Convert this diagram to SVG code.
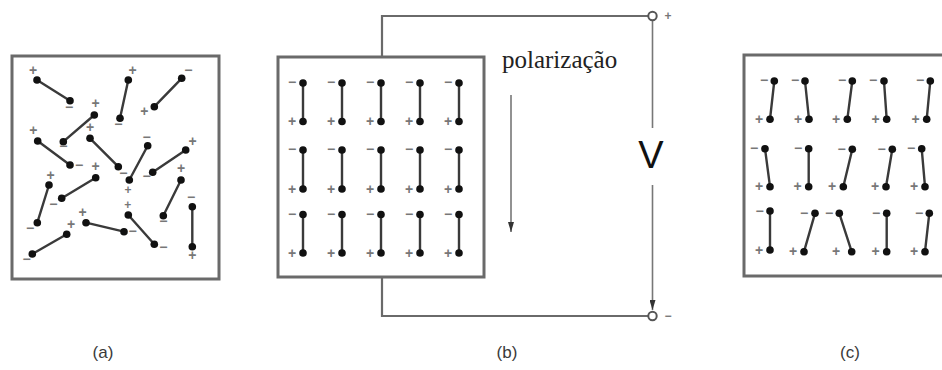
<svg xmlns="http://www.w3.org/2000/svg" width="942" height="370" viewBox="0 0 942 370">
  <defs>
    <style>
      .frame { fill: #ffffff; stroke: #6a6a6a; stroke-width: 3; }
      .wire { fill: none; stroke: #6a6a6a; stroke-width: 2.2; }
      .thin { fill: none; stroke: #777777; stroke-width: 1.6; }
      .bond { stroke: #3a3a3a; stroke-width: 2.4; stroke-linecap: round; }
      .atom { fill: #111111; }
      .sign { font-family: "Liberation Sans", Arial, sans-serif; font-size: 14px; font-weight: bold; fill: #777777; text-anchor: middle; }
      .sign.sm { font-size: 12px; }
      .term { fill: #ffffff; stroke: #555555; stroke-width: 2; }
      .cap { font-family: "Liberation Sans", Arial, sans-serif; font-size: 17px; fill: #3a3a3a; text-anchor: middle; }
    </style>
    <marker id="arrowDown" viewBox="0 0 6 10" refX="3" refY="10" markerWidth="6" markerHeight="10" markerUnits="userSpaceOnUse" orient="0">
      <path d="M0,0 L3,10 L6,0 Z" fill="#333333"/>
    </marker>
  </defs>

  <rect width="942" height="370" fill="#ffffff"/>

  <!-- (a) unpoled material: randomly oriented dipoles -->
  <g id="panel-a">
    <rect class="frame" x="12" y="56" width="207" height="223"/>
    <g class="dipoles">
      <line class="bond" x1="37" y1="80" x2="70" y2="100.7"/><circle class="atom" cx="37" cy="80" r="3.8"/><circle class="atom" cx="70" cy="100.7" r="3.8"/>
      <text class="sign" x="33" y="75">+</text><text class="sign" x="69" y="112">−</text>

      <line class="bond" x1="128.3" y1="80" x2="120" y2="118.3"/><circle class="atom" cx="128.3" cy="80" r="3.8"/><circle class="atom" cx="120" cy="118.3" r="3.8"/>
      <text class="sign" x="132.7" y="75">+</text><text class="sign" x="118.3" y="129">−</text>

      <line class="bond" x1="181.7" y1="78.3" x2="154.3" y2="106.7"/><circle class="atom" cx="181.7" cy="78.3" r="3.8"/><circle class="atom" cx="154.3" cy="106.7" r="3.8"/>
      <text class="sign" x="188.3" y="75">−</text><text class="sign" x="144.3" y="116">+</text>

      <line class="bond" x1="94.3" y1="115" x2="63.3" y2="141.7"/><circle class="atom" cx="94.3" cy="115" r="3.8"/><circle class="atom" cx="63.3" cy="141.7" r="3.8"/>
      <text class="sign" x="95.7" y="108">+</text><text class="sign" x="63.3" y="151">−</text>

      <line class="bond" x1="37.7" y1="141" x2="70" y2="165"/><circle class="atom" cx="37.7" cy="141" r="3.8"/><circle class="atom" cx="70" cy="165" r="3.8"/>
      <text class="sign" x="33.3" y="135">+</text><text class="sign" x="79" y="170">−</text>

      <line class="bond" x1="90" y1="138.3" x2="118.3" y2="166.7"/><circle class="atom" cx="90" cy="138.3" r="3.8"/><circle class="atom" cx="118.3" cy="166.7" r="3.8"/>
      <text class="sign" x="90" y="132">+</text><text class="sign" x="123.3" y="178">−</text>

      <line class="bond" x1="147.7" y1="145.7" x2="129.3" y2="180"/><circle class="atom" cx="147.7" cy="145.7" r="3.8"/><circle class="atom" cx="129.3" cy="180" r="3.8"/>
      <text class="sign" x="146.7" y="142">−</text><text class="sign sm" x="128" y="194">+</text>

      <line class="bond" x1="185.7" y1="150" x2="152.7" y2="172.3"/><circle class="atom" cx="185.7" cy="150" r="3.8"/><circle class="atom" cx="152.7" cy="172.3" r="3.8"/>
      <text class="sign" x="192.7" y="146">+</text><text class="sign" x="146.7" y="181">−</text>

      <line class="bond" x1="95.7" y1="177.7" x2="61.7" y2="198.3"/><circle class="atom" cx="95.7" cy="177.7" r="3.8"/><circle class="atom" cx="61.7" cy="198.3" r="3.8"/>
      <text class="sign" x="95.7" y="171">+</text><text class="sign" x="53.3" y="209">−</text>

      <line class="bond" x1="49" y1="185" x2="37.3" y2="222.7"/><circle class="atom" cx="49" cy="185" r="3.8"/><circle class="atom" cx="37.3" cy="222.7" r="3.8"/>
      <text class="sign" x="50.7" y="180">+</text><text class="sign" x="30" y="233">−</text>

      <line class="bond" x1="181" y1="180" x2="163.3" y2="215.7"/><circle class="atom" cx="181" cy="180" r="3.8"/><circle class="atom" cx="163.3" cy="215.7" r="3.8"/>
      <text class="sign" x="181" y="173">+</text><text class="sign" x="163.3" y="226">−</text>

      <line class="bond" x1="128.3" y1="215" x2="154.3" y2="244.3"/><circle class="atom" cx="128.3" cy="215" r="3.8"/><circle class="atom" cx="154.3" cy="244.3" r="3.8"/>
      <text class="sign sm" x="127.7" y="208.5">+</text><text class="sign" x="163.3" y="252">−</text>

      <line class="bond" x1="86" y1="222.7" x2="124" y2="231.7"/><circle class="atom" cx="86" cy="222.7" r="3.8"/><circle class="atom" cx="124" cy="231.7" r="3.8"/>
      <text class="sign" x="82.7" y="217">+</text><text class="sign" x="132.7" y="236">−</text>

      <line class="bond" x1="66.7" y1="234.3" x2="32.3" y2="254"/><circle class="atom" cx="66.7" cy="234.3" r="3.8"/><circle class="atom" cx="32.3" cy="254" r="3.8"/>
      <text class="sign" x="71" y="229">+</text><text class="sign" x="26.7" y="264">−</text>

      <line class="bond" x1="192.3" y1="206.7" x2="192.3" y2="246.7"/><circle class="atom" cx="192.3" cy="206.7" r="3.8"/><circle class="atom" cx="192.3" cy="246.7" r="3.8"/>
      <text class="sign" x="191" y="202">−</text><text class="sign" x="192.3" y="260">+</text>
    </g>
  </g>

  <!-- (b) poling: field applied across the sample, dipoles aligned -->
  <g id="panel-b">
    <rect class="frame" x="278" y="57" width="206" height="220"/>
    <g class="dipoles">
      <g id="b-row1">
        <line class="bond" x1="303" y1="83" x2="303" y2="121.5"/><circle class="atom" cx="303" cy="83" r="3.8"/><circle class="atom" cx="303" cy="121.5" r="3.8"/><text class="sign" x="292" y="87">−</text><text class="sign" x="292" y="126">+</text>
        <line class="bond" x1="342" y1="83" x2="342" y2="121.5"/><circle class="atom" cx="342" cy="83" r="3.8"/><circle class="atom" cx="342" cy="121.5" r="3.8"/><text class="sign" x="331" y="87">−</text><text class="sign" x="331" y="126">+</text>
        <line class="bond" x1="381" y1="83" x2="381" y2="121.5"/><circle class="atom" cx="381" cy="83" r="3.8"/><circle class="atom" cx="381" cy="121.5" r="3.8"/><text class="sign" x="370" y="87">−</text><text class="sign" x="370" y="126">+</text>
        <line class="bond" x1="420" y1="83" x2="420" y2="121.5"/><circle class="atom" cx="420" cy="83" r="3.8"/><circle class="atom" cx="420" cy="121.5" r="3.8"/><text class="sign" x="409" y="87">−</text><text class="sign" x="409" y="126">+</text>
        <line class="bond" x1="459" y1="83" x2="459" y2="121.5"/><circle class="atom" cx="459" cy="83" r="3.8"/><circle class="atom" cx="459" cy="121.5" r="3.8"/><text class="sign" x="448" y="87">−</text><text class="sign" x="448" y="126">+</text>
      </g>
      <g id="b-row2">
        <line class="bond" x1="303" y1="150" x2="303" y2="189"/><circle class="atom" cx="303" cy="150" r="3.8"/><circle class="atom" cx="303" cy="189" r="3.8"/><text class="sign" x="292" y="154">−</text><text class="sign" x="292" y="193.5">+</text>
        <line class="bond" x1="342" y1="150" x2="342" y2="189"/><circle class="atom" cx="342" cy="150" r="3.8"/><circle class="atom" cx="342" cy="189" r="3.8"/><text class="sign" x="331" y="154">−</text><text class="sign" x="331" y="193.5">+</text>
        <line class="bond" x1="381" y1="150" x2="381" y2="189"/><circle class="atom" cx="381" cy="150" r="3.8"/><circle class="atom" cx="381" cy="189" r="3.8"/><text class="sign" x="370" y="154">−</text><text class="sign" x="370" y="193.5">+</text>
        <line class="bond" x1="420" y1="150" x2="420" y2="189"/><circle class="atom" cx="420" cy="150" r="3.8"/><circle class="atom" cx="420" cy="189" r="3.8"/><text class="sign" x="409" y="154">−</text><text class="sign" x="409" y="193.5">+</text>
        <line class="bond" x1="459" y1="150" x2="459" y2="189"/><circle class="atom" cx="459" cy="150" r="3.8"/><circle class="atom" cx="459" cy="189" r="3.8"/><text class="sign" x="448" y="154">−</text><text class="sign" x="448" y="193.5">+</text>
      </g>
      <g id="b-row3">
        <line class="bond" x1="303" y1="214.5" x2="303" y2="253"/><circle class="atom" cx="303" cy="214.5" r="3.8"/><circle class="atom" cx="303" cy="253" r="3.8"/><text class="sign" x="292" y="218.5">−</text><text class="sign" x="292" y="257.5">+</text>
        <line class="bond" x1="342" y1="214.5" x2="342" y2="253"/><circle class="atom" cx="342" cy="214.5" r="3.8"/><circle class="atom" cx="342" cy="253" r="3.8"/><text class="sign" x="331" y="218.5">−</text><text class="sign" x="331" y="257.5">+</text>
        <line class="bond" x1="381" y1="214.5" x2="381" y2="253"/><circle class="atom" cx="381" cy="214.5" r="3.8"/><circle class="atom" cx="381" cy="253" r="3.8"/><text class="sign" x="370" y="218.5">−</text><text class="sign" x="370" y="257.5">+</text>
        <line class="bond" x1="420" y1="214.5" x2="420" y2="253"/><circle class="atom" cx="420" cy="214.5" r="3.8"/><circle class="atom" cx="420" cy="253" r="3.8"/><text class="sign" x="409" y="218.5">−</text><text class="sign" x="409" y="257.5">+</text>
        <line class="bond" x1="459" y1="214.5" x2="459" y2="253"/><circle class="atom" cx="459" cy="214.5" r="3.8"/><circle class="atom" cx="459" cy="253" r="3.8"/><text class="sign" x="448" y="218.5">−</text><text class="sign" x="448" y="257.5">+</text>
      </g>
    </g>
  </g>

  <!-- supply circuit and polarisation direction -->
  <g id="connectors">
    <polyline class="wire" points="382,56 382,16 648,16"/>
    <polyline class="wire" points="382,278 382,316 648,316"/>
    <line class="thin" x1="652.5" y1="20" x2="652.5" y2="128"/>
    <line class="thin" x1="652.5" y1="185" x2="652.5" y2="310" marker-end="url(#arrowDown)"/>
    <line class="thin" x1="511" y1="95" x2="511" y2="232" marker-end="url(#arrowDown)"/>
  </g>

  <g id="terminal-plus">
    <circle class="term" cx="652.5" cy="16" r="4.2"/>
    <text class="sign" x="668" y="20" style="font-size:12px">+</text>
  </g>
  <g id="terminal-minus">
    <circle class="term" cx="652.5" cy="316" r="4.2"/>
    <text class="sign" x="668" y="320" style="font-size:12px">−</text>
  </g>

  <g id="label-voltage">
    <text x="651" y="168" font-family="Liberation Sans, Arial, sans-serif" font-size="38" text-anchor="middle" fill="#111111">V</text>
  </g>
  <g id="label-polarizacao">
    <text x="502" y="68" font-family="Liberation Serif, Times New Roman, serif" font-size="25" fill="#222222">polarização</text>
  </g>

  <!-- (c) after poling: dipoles remain mostly aligned -->
  <g id="panel-c">
    <rect class="frame" x="744" y="55" width="210" height="221"/>
    <g class="dipoles">
      <line class="bond" x1="774.3" y1="81" x2="770" y2="119.3"/><circle class="atom" cx="774.3" cy="81" r="3.8"/><circle class="atom" cx="770" cy="119.3" r="3.8"/><text class="sign" x="764" y="85">−</text><text class="sign" x="759" y="124">+</text>
      <line class="bond" x1="805" y1="81" x2="809" y2="119.3"/><circle class="atom" cx="805" cy="81" r="3.8"/><circle class="atom" cx="809" cy="119.3" r="3.8"/><text class="sign" x="795" y="85">−</text><text class="sign" x="798" y="124">+</text>
      <line class="bond" x1="852.3" y1="81" x2="847.3" y2="119.3"/><circle class="atom" cx="852.3" cy="81" r="3.8"/><circle class="atom" cx="847.3" cy="119.3" r="3.8"/><text class="sign" x="842" y="85">−</text><text class="sign" x="836" y="124">+</text>
      <line class="bond" x1="884" y1="81" x2="886.7" y2="119.3"/><circle class="atom" cx="884" cy="81" r="3.8"/><circle class="atom" cx="886.7" cy="119.3" r="3.8"/><text class="sign" x="873" y="85">−</text><text class="sign" x="875.5" y="124">+</text>
      <line class="bond" x1="930.3" y1="81" x2="926.7" y2="119.3"/><circle class="atom" cx="930.3" cy="81" r="3.8"/><circle class="atom" cx="926.7" cy="119.3" r="3.8"/><text class="sign" x="920" y="85">−</text><text class="sign" x="915.5" y="124">+</text>

      <line class="bond" x1="765" y1="148.7" x2="770" y2="186.7"/><circle class="atom" cx="765" cy="148.7" r="3.8"/><circle class="atom" cx="770" cy="186.7" r="3.8"/><text class="sign" x="754" y="153">−</text><text class="sign" x="759" y="191">+</text>
      <line class="bond" x1="808.7" y1="148.7" x2="808.7" y2="186.7"/><circle class="atom" cx="808.7" cy="148.7" r="3.8"/><circle class="atom" cx="808.7" cy="186.7" r="3.8"/><text class="sign" x="798" y="153">−</text><text class="sign" x="797.5" y="191">+</text>
      <line class="bond" x1="852.3" y1="149.3" x2="843.3" y2="186.7"/><circle class="atom" cx="852.3" cy="149.3" r="3.8"/><circle class="atom" cx="843.3" cy="186.7" r="3.8"/><text class="sign" x="841.5" y="153.5">−</text><text class="sign" x="832" y="191">+</text>
      <line class="bond" x1="892.3" y1="149.3" x2="886" y2="186.7"/><circle class="atom" cx="892.3" cy="149.3" r="3.8"/><circle class="atom" cx="886" cy="186.7" r="3.8"/><text class="sign" x="881.5" y="153.5">−</text><text class="sign" x="875" y="191">+</text>
      <line class="bond" x1="921.7" y1="148.7" x2="925" y2="186.7"/><circle class="atom" cx="921.7" cy="148.7" r="3.8"/><circle class="atom" cx="925" cy="186.7" r="3.8"/><text class="sign" x="911" y="153">−</text><text class="sign" x="914" y="191">+</text>

      <line class="bond" x1="770" y1="211" x2="770" y2="250"/><circle class="atom" cx="770" cy="211" r="3.8"/><circle class="atom" cx="770" cy="250" r="3.8"/><text class="sign" x="759.5" y="215.5">−</text><text class="sign" x="759" y="254.5">+</text>
      <line class="bond" x1="815" y1="213.3" x2="804" y2="251.7"/><circle class="atom" cx="815" cy="213.3" r="3.8"/><circle class="atom" cx="804" cy="251.7" r="3.8"/><text class="sign" x="804" y="217.5">−</text><text class="sign" x="793" y="256">+</text>
      <line class="bond" x1="839.3" y1="213.3" x2="851.7" y2="251.7"/><circle class="atom" cx="839.3" cy="213.3" r="3.8"/><circle class="atom" cx="851.7" cy="251.7" r="3.8"/><text class="sign" x="829" y="217.5">−</text><text class="sign" x="836" y="256">+</text>
      <line class="bond" x1="886.7" y1="213.3" x2="886.7" y2="251.7"/><circle class="atom" cx="886.7" cy="213.3" r="3.8"/><circle class="atom" cx="886.7" cy="251.7" r="3.8"/><text class="sign" x="876" y="217.5">−</text><text class="sign" x="875.5" y="256">+</text>
      <line class="bond" x1="929.3" y1="213.3" x2="925" y2="251.7"/><circle class="atom" cx="929.3" cy="213.3" r="3.8"/><circle class="atom" cx="925" cy="251.7" r="3.8"/><text class="sign" x="919" y="217.5">−</text><text class="sign" x="914" y="256">+</text>
    </g>
  </g>

  <g id="captions">
    <text class="cap" x="103" y="358">(a)</text>
    <text class="cap" x="507" y="358">(b)</text>
    <text class="cap" x="850" y="358">(c)</text>
  </g>
</svg>
